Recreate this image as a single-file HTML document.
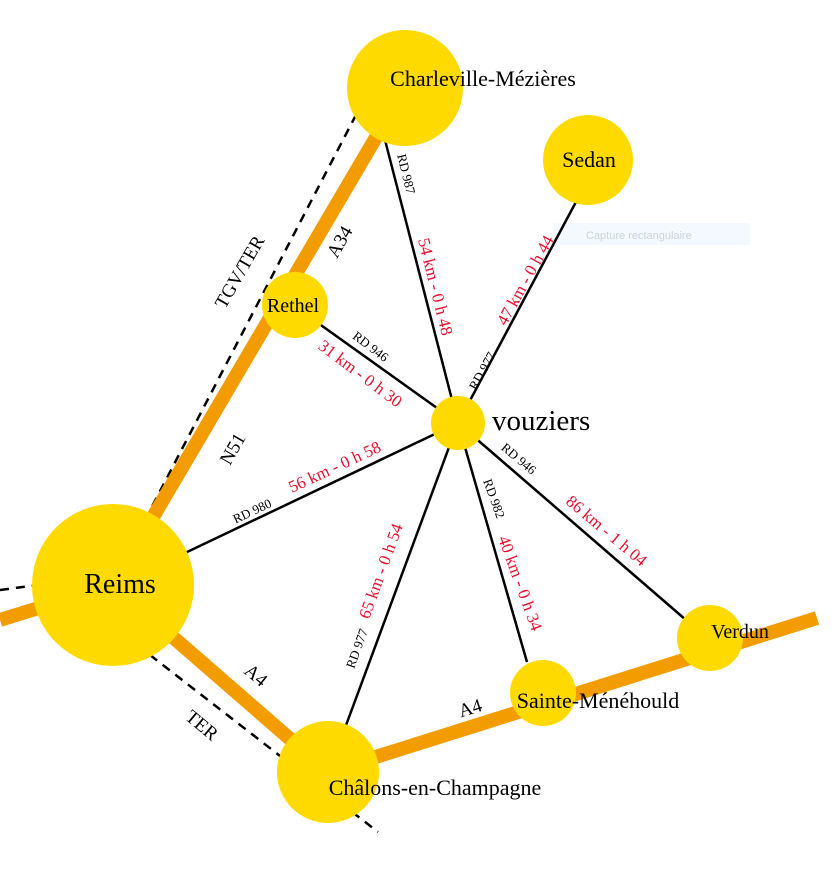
<!DOCTYPE html>
<html><head><meta charset="utf-8"><style>
html,body{margin:0;padding:0;background:#fff;width:839px;height:872px;overflow:hidden}
svg text{font-family:"Liberation Serif",serif}
.r{fill:#e8102e;font-size:17px}
.k{fill:#000;font-size:13px}
.c{font-size:22px}
</style></head><body>
<svg width="839" height="872" viewBox="0 0 839 872" xmlns="http://www.w3.org/2000/svg">
<rect x="553" y="223" width="197" height="22" fill="#f4f9ff"/>
<text x="586" y="239" font-size="11" fill="#c8d4e0" style="font-family:'Liberation Sans',sans-serif">Capture rectangulaire</text>
<g stroke="#000" stroke-width="2.5" stroke-dasharray="9,7" fill="none">
<line x1="145" y1="520" x2="357" y2="113"/>
<line x1="0" y1="590" x2="38" y2="585"/>
<line x1="150" y1="655" x2="378" y2="832"/>
</g>
<g stroke="#f39c00" stroke-width="14" fill="none">
<line x1="113" y1="585" x2="405" y2="88"/>
<line x1="0" y1="620" x2="113" y2="585"/>
<line x1="113" y1="585" x2="328" y2="772"/>
<line x1="328" y1="772" x2="817" y2="618"/>
</g>
<g stroke="#000" stroke-width="2.5">
<line x1="458" y1="423" x2="385" y2="140"/>
<line x1="458" y1="423" x2="577" y2="200"/>
<line x1="458" y1="423" x2="318" y2="323"/>
<line x1="458" y1="423" x2="185" y2="553"/>
<line x1="458" y1="423" x2="345" y2="728"/>
<line x1="458" y1="423" x2="527" y2="662"/>
<line x1="458" y1="423" x2="686" y2="620"/>
</g>
<g fill="#ffda00">
<circle cx="405" cy="88" r="58"/>
<circle cx="588" cy="160" r="45"/>
<circle cx="295" cy="305" r="33"/>
<circle cx="458" cy="423" r="27"/>
<circle cx="113" cy="585" r="81"/>
<circle cx="710" cy="638" r="33"/>
<circle cx="543" cy="693" r="33"/>
<circle cx="328" cy="772" r="51"/>
</g>
<text x="483" y="86" class="c" text-anchor="middle">Charleville-Mézières</text>
<text x="589" y="167" class="c" text-anchor="middle">Sedan</text>
<text x="293" y="312" font-size="20" text-anchor="middle">Rethel</text>
<text x="492" y="430" font-size="29">vouziers</text>
<text x="120" y="593" font-size="28" text-anchor="middle">Reims</text>
<text x="740" y="638" font-size="20" text-anchor="middle">Verdun</text>
<text x="598" y="708" class="c" text-anchor="middle">Sainte-Ménéhould</text>
<text x="435" y="795" class="c" text-anchor="middle">Châlons-en-Champagne</text>
<text transform="translate(345,245) rotate(-60)" font-size="19" text-anchor="middle">A34</text>
<text transform="translate(238,452) rotate(-60)" font-size="19" text-anchor="middle">N51</text>
<text transform="translate(245,275) rotate(-60)" font-size="19" text-anchor="middle">TGV/TER</text>
<text transform="translate(252,680) rotate(40)" font-size="19" text-anchor="middle">A4</text>
<text transform="translate(198,730) rotate(40)" font-size="19" text-anchor="middle">TER</text>
<text transform="translate(472,714) rotate(-17)" font-size="19" text-anchor="middle">A4</text>
<text transform="translate(402,175) rotate(76)" class="k" text-anchor="middle">RD 987</text>
<text transform="translate(430,288) rotate(76)" class="r" text-anchor="middle">54 km - 0 h 48</text>
<text transform="translate(530,283) rotate(-61)" class="r" text-anchor="middle">47 km - 0 h 44</text>
<text transform="translate(486,373) rotate(-61)" class="k" text-anchor="middle">RD 977</text>
<text transform="translate(368,350) rotate(37)" class="k" text-anchor="middle">RD 946</text>
<text transform="translate(357,378) rotate(37)" class="r" text-anchor="middle">31 km - 0 h 30</text>
<text transform="translate(254,515) rotate(-25)" class="k" text-anchor="middle">RD 980</text>
<text transform="translate(337,472) rotate(-25)" class="r" text-anchor="middle">56 km - 0 h 58</text>
<text transform="translate(386,573) rotate(-70)" class="r" text-anchor="middle">65 km - 0 h 54</text>
<text transform="translate(361,650) rotate(-70)" class="k" text-anchor="middle">RD 977</text>
<text transform="translate(490,500) rotate(70)" class="k" text-anchor="middle">RD 982</text>
<text transform="translate(515,585) rotate(70)" class="r" text-anchor="middle">40 km - 0 h 34</text>
<text transform="translate(516,462) rotate(40)" class="k" text-anchor="middle">RD 946</text>
<text transform="translate(603,535) rotate(40)" class="r" text-anchor="middle">86 km - 1 h 04</text>
</svg>
</body></html>
